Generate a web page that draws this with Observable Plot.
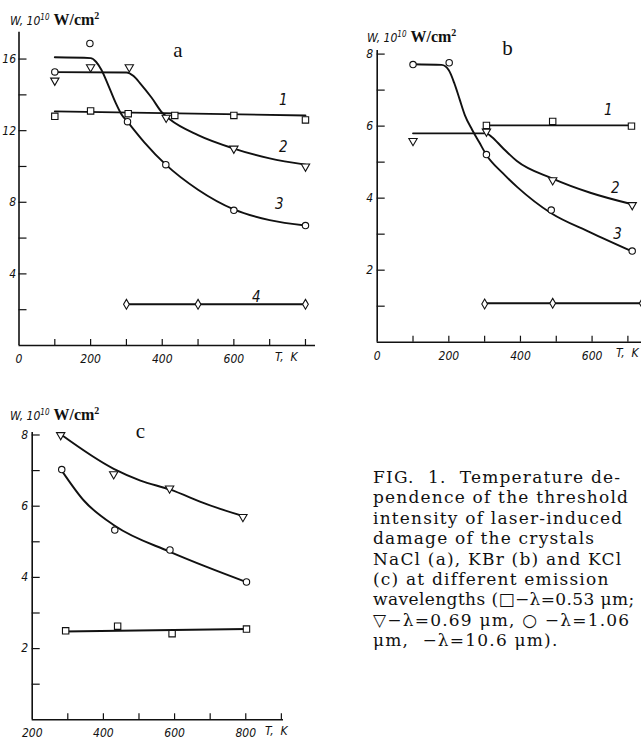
<!DOCTYPE html>
<html><head><meta charset="utf-8">
<script src="https://cdn.jsdelivr.net/npm/d3@7"></script>
<script src="https://cdn.jsdelivr.net/npm/@observablehq/plot@0.6"></script>
<style>
html,body{margin:0;padding:0;background:#fff;overflow:hidden;width:641px;height:742px;}
.panel{position:absolute;}
.ttl{position:absolute;white-space:nowrap;color:#111;line-height:20px;height:20px;}
.ttl .s{font-family:'Liberation Sans Narrow','DejaVu Sans Condensed',sans-serif;font-style:italic;font-size:12px;}
.ttl .s sup{font-size:8px;vertical-align:5px;}
.ttl .b{font-family:'Liberation Serif',serif;font-weight:bold;font-size:16px;}
.ttl .b sup{font-size:10px;vertical-align:6px;}
#cap{position:absolute;left:373px;top:467px;font-family:'DejaVu Serif',serif;font-size:17px;line-height:20.4px;letter-spacing:1.2px;white-space:nowrap;color:#111;}
#cap .tight{letter-spacing:0.4px;}
</style></head><body>
<div id="pa" class="panel" style="left:0;top:0"></div>
<div id="pb" class="panel" style="left:330px;top:0"></div>
<div id="pc" class="panel" style="left:0;top:370px"></div>
<div class="ttl" style="left:10px;top:6px"><span class="s">W, 10<sup>10</sup></span> <span class="b">W/cm<sup>2</sup></span></div>
<div class="ttl" style="left:367px;top:23px"><span class="s">W, 10<sup>10</sup></span> <span class="b">W/cm<sup>2</sup></span></div>
<div class="ttl" style="left:10px;top:401px"><span class="s">W, 10<sup>10</sup></span> <span class="b">W/cm<sup>2</sup></span></div>
<div id="cap">FIG.&nbsp; 1.&nbsp; Temperature de-<br>pendence of the threshold<br>intensity of laser-induced<br>damage of the crystals<br>NaCl (a), KBr (b) and KCl<br>(c) at different emission<br><span class="tight">wavelengths (□−λ=0.53 μm;</span><br>▽−λ=0.69 μm, ○ −λ=1.06<br>μm, &nbsp;−λ=10.6 μm).</div>
<script>
// ---------- Panel a: NaCl ----------
const aXTicks = [100, 200, 300, 400, 500, 600, 700, 800];
const aXLabels = [0, 200, 400, 600];
const aYTicks = [2, 4, 6, 8, 10, 12, 14, 16];
const aYLabels = [4, 8, 12, 16];
const aSquares = [[100, 12.8], [200, 13.1], [305, 12.95], [435, 12.85], [600, 12.85], [800, 12.6]];
const aTriangles = [[100, 14.8], [200, 15.55], [308, 15.55], [411, 12.73], [600, 11.0], [800, 10.0]];
const aCircles = [[100, 15.28], [198, 16.87], [303, 12.5], [410, 10.1], [600, 7.55], [800, 6.7]];
const aDiamonds = [[300, 2.3], [500, 2.3], [800, 2.3]];
const aCurve1 = [[100, 13.08], [800, 12.85]];
const aCurve2 = [[100, 15.27], [300, 15.25], [320, 15.05], [340, 14.6], [370, 13.85], [400, 13.0], [420, 12.65], [500, 11.75], [600, 11.0], [700, 10.45], [800, 10.1]];
const aCurve3 = [[100, 16.1], [200, 16.05], [215, 15.85], [230, 15.4], [250, 14.5], [270, 13.55], [285, 12.95], [305, 12.45], [350, 11.35], [410, 10.1], [500, 8.7], [600, 7.6], [700, 7.0], [800, 6.7]];
const aCurve4 = [[300, 2.3], [800, 2.3]];
const aCurveLabels = [[738, 13.7, "1"], [738, 11.07, "2"], [727, 7.88, "3"], [663, 2.68, "4"]];
const aLetter = [[444, 16.5, "a"]];

// ---------- Panel b: KBr ----------
const bXTicks = [100, 200, 300, 400, 500, 600, 700];
const bXLabels = [0, 200, 400, 600];
const bYTicks = [1, 2, 3, 4, 5, 6, 7, 8];
const bYLabels = [2, 4, 6, 8];
const bSquares = [[305, 6.02], [490, 6.13], [710, 6.0]];
const bTriangles = [[100, 5.59], [305, 5.85], [490, 4.5], [712, 3.81]];
const bCircles = [[100, 7.71], [201, 7.76], [305, 5.21], [486, 3.67], [712, 2.53]];
const bDiamonds = [[300, 1.06], [490, 1.08], [740, 1.08]];
const bCurve1 = [[305, 6.02], [710, 6.02]];
const bCurve2 = [[100, 5.8], [305, 5.8], [320, 5.7], [350, 5.4], [390, 5.03], [488, 4.55], [595, 4.15], [712, 3.83]];
const bCurve3 = [[100, 7.72], [180, 7.7], [200, 7.55], [215, 7.2], [230, 6.75], [245, 6.3], [265, 5.9], [285, 5.55], [305, 5.2], [350, 4.7], [392, 4.3], [486, 3.58], [595, 3.05], [712, 2.52]];
const bCurve4 = [[300, 1.08], [740, 1.08]];
const bCurveLabels = [[645, 6.43, "1"], [665, 4.29, "2"], [671, 3.01, "3"]];
const bLetter = [[364, 8.17, "b"]];

// ---------- Panel c: KCl ----------
const cXTicks = [300, 400, 500, 600, 700, 800, 900];
const cXLabels = [200, 400, 600, 800];
const cYTicks = [1, 2, 3, 4, 5, 6, 7, 8];
const cYLabels = [2, 4, 6, 8];
const cSquares = [[294, 2.5], [440, 2.63], [593, 2.42], [802, 2.55]];
const cTriangles = [[280, 8.0], [429, 6.9], [586, 6.5], [792, 5.7]];
const cCircles = [[283, 7.03], [432, 5.33], [587, 4.77], [802, 3.87]];
const cCurveSq = [[290, 2.48], [802, 2.55]];
const cCurveTri = [[280, 8.02], [429, 7.05], [504, 6.72], [586, 6.47], [692, 6.05], [793, 5.72]];
const cCurveCirc = [[283, 7.0], [345, 6.16], [432, 5.45], [587, 4.72], [692, 4.29], [802, 3.87]];
const cLetter = [[504, 8.1, "c"]];

const INK = "#111";
const SANS = "'Liberation Sans Narrow','DejaVu Sans Condensed',sans-serif";
const SERIF = "'Liberation Serif','DejaVu Serif',serif";
const tickFont = {fontFamily: SANS, fontStyle: "italic", fontSize: 12, fill: INK};

const X = d => d[0], Y = d => d[1];
const SYM = {
  square: {symbol: "square", r: 3.6},
  triangle: {symbol: "triangle", r: 3.1, rotate: 180},
  circle: {symbol: "circle", r: 3.2},
  diamond: {symbol: "diamond", r: 3.0}
};

function panel(c) {
  const marks = [
    Plot.ruleX([c.xDomain[0]], {stroke: INK, strokeWidth: 1.6}),
    Plot.ruleY([0], {stroke: INK, strokeWidth: 1.6}),
    Plot.axisX({ticks: c.xTicks, tickSize: -6, tickFormat: () => "", stroke: INK, strokeWidth: 1.2}),
    Plot.axisY({ticks: c.yTicks, tickSize: -8, tickFormat: () => "", stroke: INK, strokeWidth: 1.2}),
    Plot.axisX({ticks: c.xLabels, tickSize: 0, tickPadding: 9, ...tickFont}),
    Plot.axisY({ticks: c.yLabels, tickSize: 0, tickPadding: c.yPad, ...tickFont}),
    Plot.text(["T,  K"], {frameAnchor: "bottom-right", textAnchor: "end", dx: c.tkDx, dy: 15, ...tickFont})
  ];
  for (const cv of c.curves) {
    marks.push(Plot.line(cv, {x: X, y: Y, curve: "monotone-x", stroke: INK, strokeWidth: 1.9}));
  }
  for (const [pts, kind] of c.dots) {
    marks.push(Plot.dot(pts, {x: X, y: Y, ...SYM[kind], fill: "white", stroke: INK, strokeWidth: 1.1}));
  }
  if (c.labels) marks.push(Plot.text(c.labels, {x: X, y: Y, text: d => d[2], ...tickFont, fontSize: 15}));
  marks.push(Plot.text(c.letter, {x: X, y: Y, text: d => d[2], fontFamily: SERIF, fontSize: 21, fill: INK}));
  return Plot.plot({
    width: c.width, height: c.height,
    marginLeft: c.ml, marginRight: c.mr, marginTop: c.mt, marginBottom: c.mb,
    x: {domain: c.xDomain, axis: null},
    y: {domain: c.yDomain, axis: null},
    style: {background: "transparent", overflow: "visible"},
    marks
  });
}

document.getElementById("pa").append(panel({
  width: 330, height: 370, ml: 18.5, mr: 15, mt: 31.7, mb: 25, yPad: 3,
  xDomain: [0, 828], yDomain: [0, 17.5],
  xTicks: aXTicks, xLabels: aXLabels, yTicks: aYTicks, yLabels: aYLabels, tkDx: -18,
  curves: [aCurve1, aCurve2, aCurve3, aCurve4],
  dots: [[aSquares, "square"], [aTriangles, "triangle"], [aCircles, "circle"], [aDiamonds, "diamond"]],
  labels: aCurveLabels, letter: aLetter
}));
document.getElementById("pb").append(panel({
  width: 311, height: 370, ml: 46.7, mr: 0, mt: 50, mb: 28.3, yPad: 4,
  xDomain: [0, 738], yDomain: [0, 8.1],
  xTicks: bXTicks, xLabels: bXLabels, yTicks: bYTicks, yLabels: bYLabels, tkDx: -3,
  curves: [bCurve1, bCurve2, bCurve3, bCurve4],
  dots: [[bSquares, "square"], [bTriangles, "triangle"], [bCircles, "circle"], [bDiamonds, "diamond"]],
  labels: bCurveLabels, letter: bLetter
}));
document.getElementById("pc").append(panel({
  width: 330, height: 372, ml: 31.7, mr: 47, mt: 62, mb: 22.7, yPad: 4,
  xDomain: [200, 906], yDomain: [0, 8.07],
  xTicks: cXTicks, xLabels: cXLabels, yTicks: cYTicks, yLabels: cYLabels, tkDx: 4,
  curves: [cCurveSq, cCurveTri, cCurveCirc],
  dots: [[cSquares, "square"], [cTriangles, "triangle"], [cCircles, "circle"]],
  labels: null, letter: cLetter
}));
</script>
</body></html>
